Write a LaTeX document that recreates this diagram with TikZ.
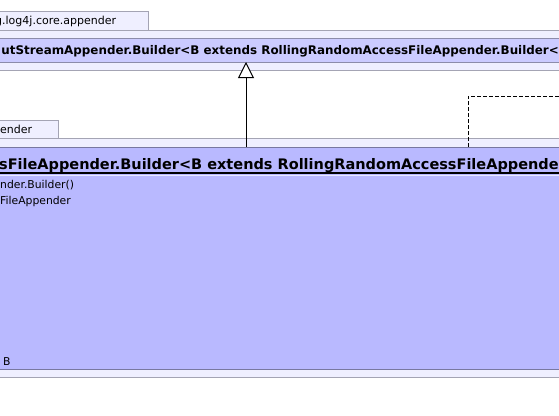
\documentclass[tikz,border=0pt]{standalone}
\usepackage{fontspec}
\setmainfont{DejaVu Sans}
\usetikzlibrary{arrows.meta}
\definecolor{pkgfill}{HTML}{EFEFFF}
\definecolor{pkgline}{HTML}{A4A4B4}
\definecolor{clsAfill}{HTML}{CBCBFF}
\definecolor{clsAline}{HTML}{8C8CAA}
\definecolor{clsBfill}{HTML}{B9B9FF}
\definecolor{clsBline}{HTML}{7878A0}
\tikzset{
  pkgbox/.style={draw=pkgline, fill=pkgfill, line width=1pt},
  clsA/.style={draw=clsAline, fill=clsAfill, line width=1pt, inner sep=0pt},
  clsB/.style={draw=clsBline, fill=clsBfill, line width=1pt, inner sep=0pt},
  tabtext/.style={font=\fontsize{11}{13}\selectfont, inner sep=0pt, text=black},
  titleA/.style={font=\bfseries\fontsize{11.9}{14}\selectfont, inner sep=0pt, text=black},
  titleB/.style={font=\bfseries\fontsize{14.5}{17}\selectfont, inner sep=0pt, text=black},
  member/.style={font=\fontsize{10.8}{13}\selectfont, inner sep=0pt, text=black},
  inherit/.style={draw=black, line width=1pt, -{Triangle[open, width=16pt, length=16pt, fill=white]}},
  realize/.style={draw=black, line width=1pt, dash pattern=on 4pt off 2pt},
}
\begin{document}
\begin{tikzpicture}[x=1pt, y=-1pt]
\useasboundingbox (0,0) rectangle (559,415);
\clip (0,0) rectangle (559,415);
\fill[white] (0,0) rectangle (559,415);
% upper package
\draw[pkgbox] (-10,11) rectangle (148,30);
\draw[pkgbox] (-10,30) rectangle (575,70);
\node[tabtext, anchor=base west] (tabA) at (-5,24.5) {g.log4j.core.appender};
\node[clsA, minimum width=590pt, minimum height=24pt] (A) at (280,50) {};
\node[titleA, anchor=base east] (Atitle) at (559,54.5) {utStreamAppender.Builder<B extends RollingRandomAccessFileAppender.Builder<};
% lower package
\draw[pkgbox] (-10,120) rectangle (58,138);
\draw[pkgbox] (-10,138) rectangle (575,377);
\node[tabtext, anchor=base west] (tabB) at (0,133) {ender};
\node[clsB, minimum width=590pt, minimum height=222pt] (B) at (280,258) {};
\draw[black, line width=2pt] (-10,173) -- (575,173);
\draw[white!70!clsBfill, line width=0.8pt] (-10,175.3) -- (575,175.3);
\node[titleB, anchor=base east] (Btitle) at (566,169.5) {sFileAppender.Builder<B extends RollingRandomAccessFileAppender};
\node[member, anchor=base west] (m1) at (0,188.5) {nder.Builder()};
\node[member, anchor=base west] (m2) at (0,204) {FileAppender};
\node[member, anchor=base west] (m3) at (3,365.5) {B};
% connectors
\coordinate (Bin) at (246,147);
\coordinate (Aout) at (246,62);
\draw[inherit] (Bin) -- (Aout);
\coordinate (Bdash) at (468,147);
\coordinate (dashcorner) at (468,96);
\coordinate (dashend) at (570,96);
\draw[realize] (Bdash) -- (dashcorner) -- (dashend);
\end{tikzpicture}
\end{document}
